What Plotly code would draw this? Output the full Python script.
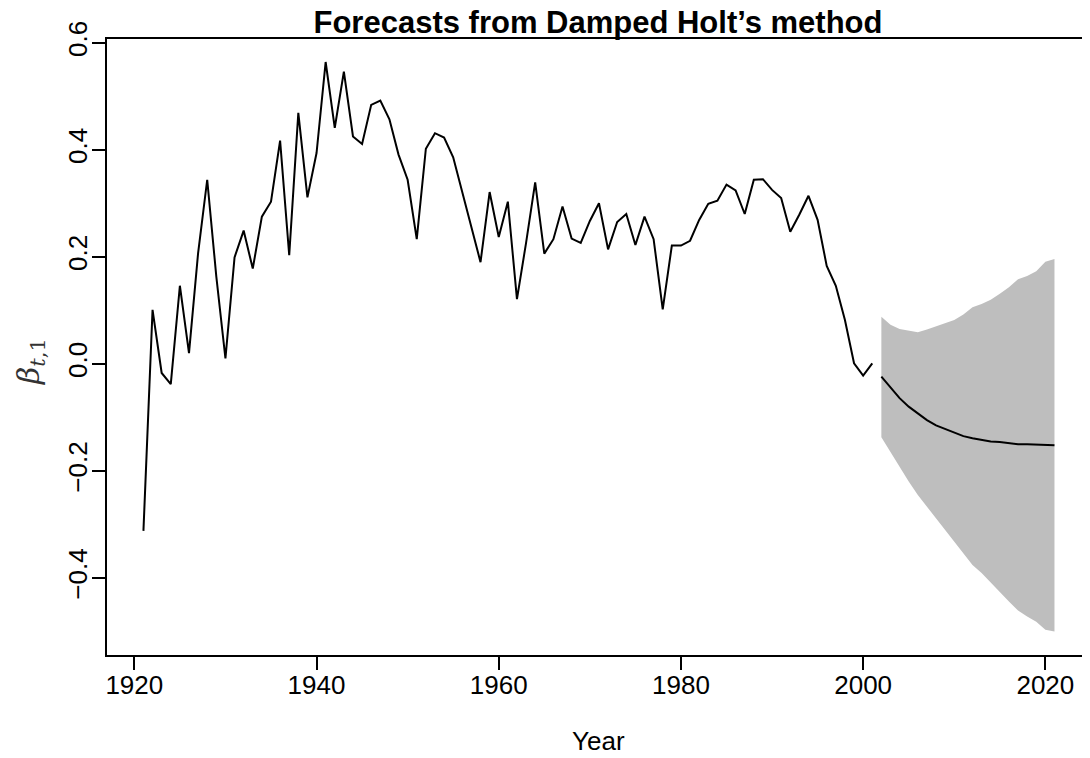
import plotly.graph_objects as go

# Observed series (1921-2001)
obs_years = list(range(1921, 2002))
obs_values = [
    -0.312, 0.101, -0.017, -0.038, 0.146, 0.020, 0.207, 0.344, 0.163, 0.010,
    0.199, 0.249, 0.178, 0.275, 0.303, 0.417, 0.203, 0.469, 0.311, 0.394,
    0.564, 0.441, 0.546, 0.425, 0.411, 0.484, 0.492, 0.457, 0.391, 0.344,
    0.233, 0.402, 0.431, 0.423, 0.386, 0.319, 0.254, 0.190, 0.321, 0.237,
    0.303, 0.121, 0.226, 0.339, 0.206, 0.233, 0.294, 0.234, 0.226, 0.267,
    0.300, 0.214, 0.265, 0.280, 0.222, 0.275, 0.233, 0.102, 0.221, 0.221,
    0.230, 0.269, 0.299, 0.305, 0.335, 0.324, 0.280, 0.344, 0.345, 0.325,
    0.310, 0.247, 0.279, 0.314, 0.269, 0.183, 0.146, 0.082, 0.001, -0.022,
    0.001,
]

# Forecasts (2002-2021)
fc_years = list(range(2002, 2022))
fc_mean = [
    -0.024, -0.045, -0.064, -0.080, -0.093, -0.105, -0.115, -0.122, -0.129, -0.135,
    -0.139, -0.142, -0.145, -0.146, -0.148, -0.150, -0.150, -0.151, -0.152, -0.152,
]
fc_upper = [
    0.088, 0.073, 0.065, 0.062, 0.059, 0.064, 0.070, 0.076, 0.082, 0.092,
    0.106, 0.112, 0.120, 0.131, 0.143, 0.158, 0.164, 0.173, 0.191, 0.196,
]
fc_lower = [
    -0.137, -0.164, -0.192, -0.220, -0.245, -0.267, -0.288, -0.310, -0.332, -0.354,
    -0.376, -0.391, -0.410, -0.426, -0.444, -0.461, -0.472, -0.482, -0.497, -0.500,
]

x_ticks = [1920, 1940, 1960, 1980, 2000, 2020]
y_ticks = [-0.4, -0.2, 0.0, 0.2, 0.4, 0.6]
y_ticktext = ["\u22120.4", "\u22120.2", "0.0", "0.2", "0.4", "0.6"]

fig = go.Figure()

fig.add_trace(go.Scatter(
    x=fc_years + fc_years[::-1],
    y=fc_upper + fc_lower[::-1],
    fill="toself", fillcolor="#BEBEBE",
    line=dict(width=0), mode="lines", hoverinfo="skip", showlegend=False,
))
fig.add_trace(go.Scatter(
    x=obs_years, y=obs_values, mode="lines",
    line=dict(color="black", width=2), showlegend=False,
))
fig.add_trace(go.Scatter(
    x=fc_years, y=fc_mean, mode="lines",
    line=dict(color="black", width=2), showlegend=False,
))

font_main = "Liberation Sans, Arial, sans-serif"

# page body has an 8px margin, so the figure is offset by (8, 8)
W, H = 1082, 750
ML, MT, MB, MR = 99, 31, 103, 0
plot_w = W - ML - MR
plot_h = H - MT - MB

fig.update_layout(
    width=W, height=H,
    margin=dict(l=ML, r=MR, t=MT, b=MB),
    paper_bgcolor="white", plot_bgcolor="white",
    font=dict(family=font_main, size=26, color="black"),
    title=dict(
        text="<b>Forecasts from Damped Holt\u2019s method</b>",
        x=590 / W, xanchor="center", xref="container",
        y=1 - 14 / H, yanchor="middle", yref="container",
        font=dict(family=font_main, size=31, color="black"),
    ),
    xaxis=dict(
        range=[1917.0, 2024.9], tickvals=x_ticks,
        ticks="outside", ticklen=13, tickwidth=1.5, tickcolor="black",
        showline=True, linecolor="black", linewidth=1.5, mirror=True,
        showgrid=False, zeroline=False, ticklabelstandoff=-7,
        tickfont=dict(size=26),
    ),
    yaxis=dict(
        range=[-0.544, 0.607], tickvals=y_ticks, ticktext=y_ticktext,
        ticks="outside", ticklen=13, tickwidth=1.5, tickcolor="black",
        showline=True, linecolor="black", linewidth=1.5, mirror=False,
        showgrid=False, zeroline=False, tickangle=-90, ticklabelstandoff=-5,
        tickfont=dict(size=26),
    ),
    annotations=[
        dict(text="Year", xref="paper", yref="paper",
             x=(598 - 8 - ML) / plot_w, y=(H - (741 - 8) - MB) / plot_h,
             xanchor="center", yanchor="middle",
             showarrow=False, font=dict(size=26)),
        dict(text="<i>\u03b2</i><sub><i>t</i>,1</sub>", xref="paper", yref="paper",
             x=(30 - 8 - ML) / plot_w, y=(H - (362 - 8) - MB) / plot_h,
             xanchor="center", yanchor="middle", textangle=-90, showarrow=False,
             font=dict(family="DejaVu Serif, Liberation Serif, serif", size=30, color="#333333")),
    ],
)

fig.write_html("out.html")
